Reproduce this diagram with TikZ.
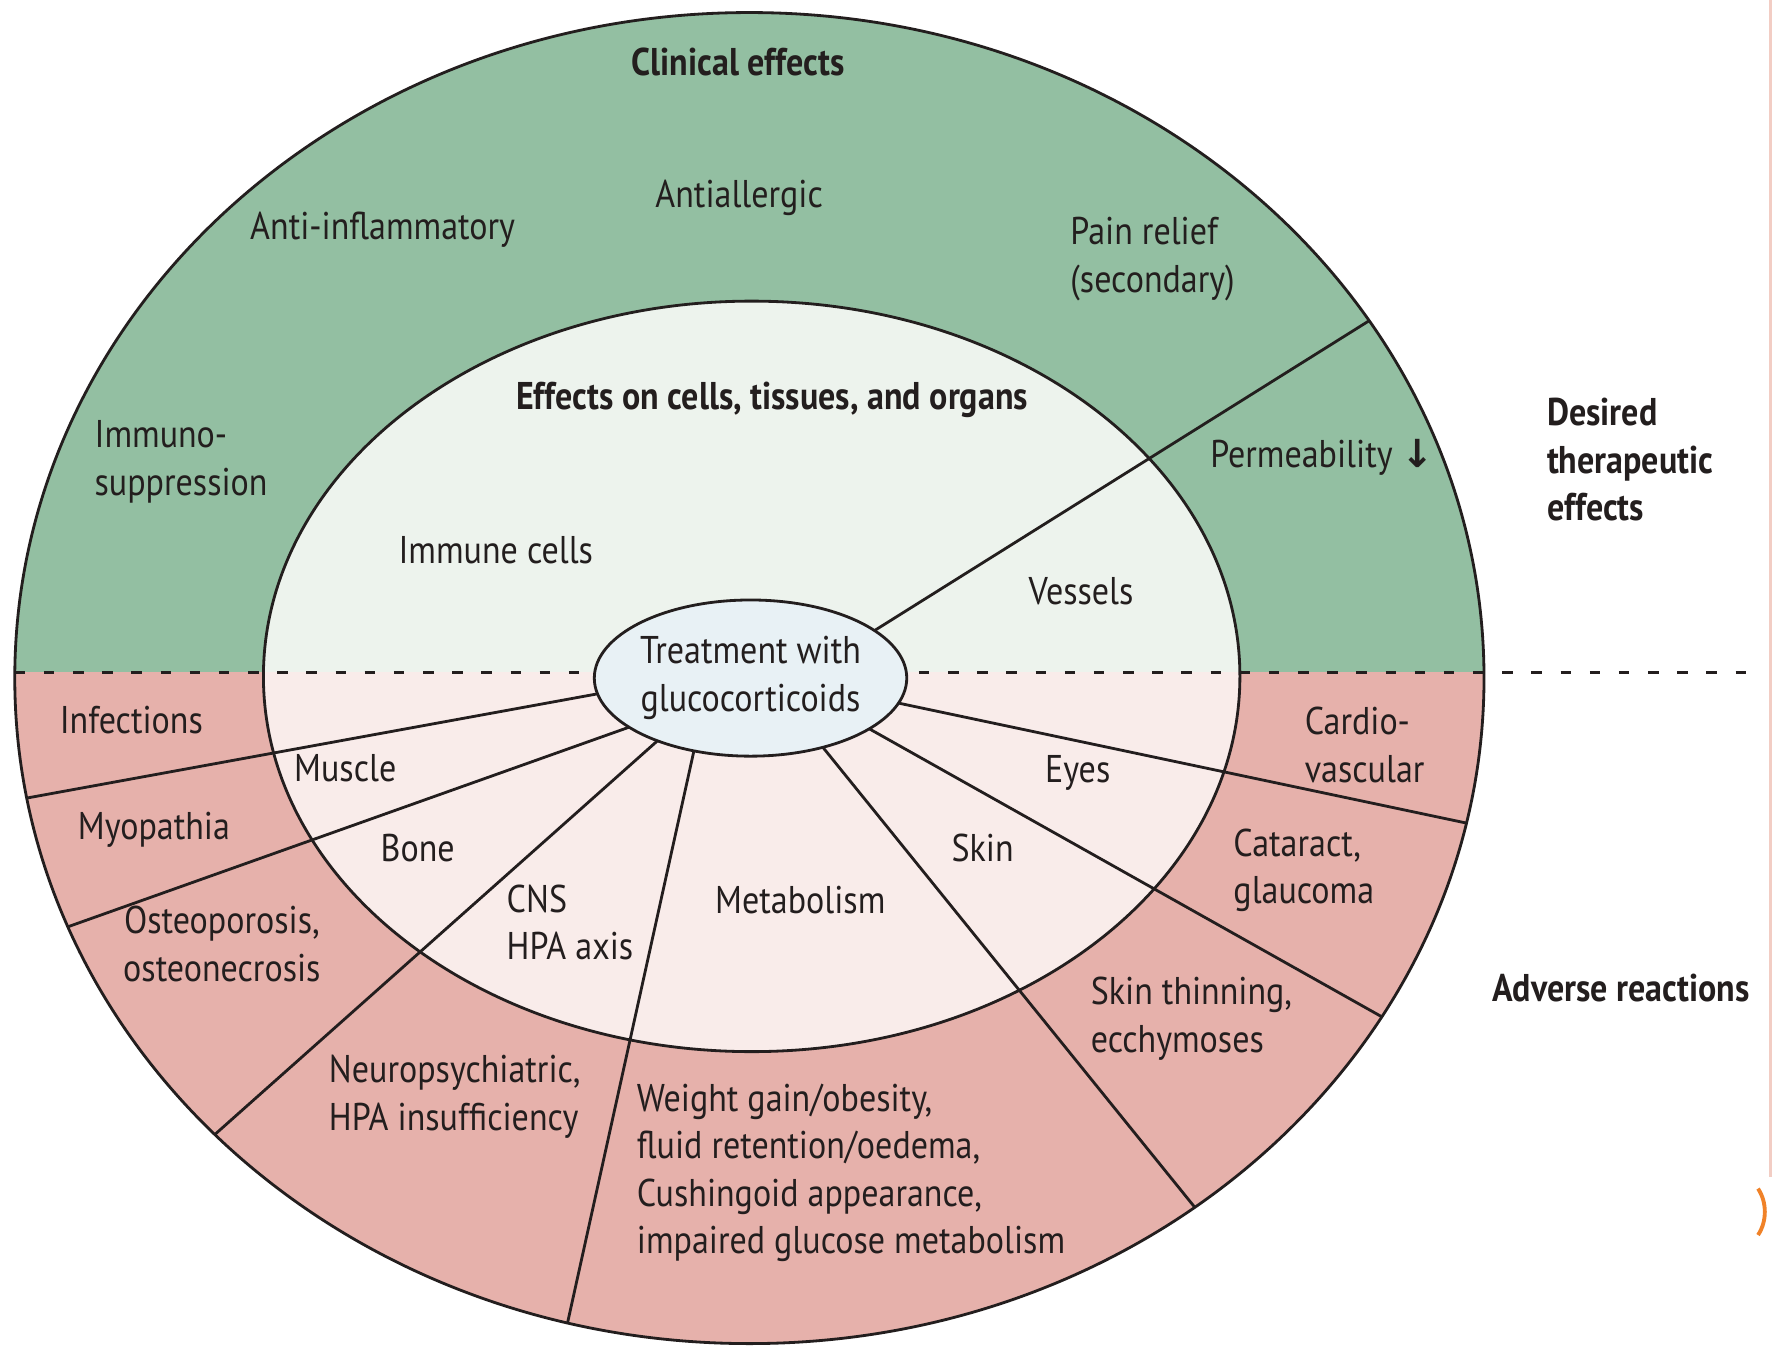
\documentclass[tikz,border=0pt]{standalone}
\usepackage{fontspec}
\setmainfont{PT Sans}[FakeStretch=0.88]
\newfontfamily\arrowfont{DejaVu Sans}
\usetikzlibrary{calc,shapes.geometric}
\definecolor{gOut}{RGB}{147,191,162}
\definecolor{rOut}{RGB}{230,177,171}
\definecolor{gIn}{RGB}{237,243,237}
\definecolor{rIn}{RGB}{249,236,234}
\definecolor{cIn}{RGB}{232,241,245}
\definecolor{ink}{RGB}{35,30,30}
\definecolor{edgeP}{RGB}{242,205,196}
\definecolor{arcO}{RGB}{240,130,40}
\begin{document}
\begin{tikzpicture}[x=0.01132cm,y=-0.01132cm,
  lbl/.style={font=\fontsize{11}{13.5}\selectfont, text=ink, inner sep=0pt, align=left},
  hdr/.style={lbl, font=\fontsize{11}{13.5}\selectfont\bfseries},
  spoke/.style={draw=ink, line width=0.8pt},
  rim/.style={draw=ink, line width=0.8pt},
  dashline/.style={draw=ink, line width=0.8pt, dash pattern=on 3pt off 5.3pt},
  hub/.style={ellipse, draw=ink, line width=0.8pt, fill=cIn, minimum width=2.672cm, minimum height=1.562cm, inner sep=0pt, align=center, text=ink, font=\fontsize{11}{13.5}\selectfont}]
\useasboundingbox[fill=white] (0,0) rectangle (1568,1188.2);
\coordinate (O) at (662,599);
\coordinate (I) at (664,597.5);
% fills
\begin{scope}
\clip (0,0) rectangle (1568,594);
\fill[gOut] (O) ellipse [x radius=7.347cm, y radius=6.656cm];
\fill[gIn] (I) ellipse [x radius=4.883cm, y radius=3.753cm];
\end{scope}
\begin{scope}
\clip (0,594) rectangle (1568,1188.2);
\fill[rOut] (O) ellipse [x radius=7.347cm, y radius=6.656cm];
\fill[rIn] (I) ellipse [x radius=4.883cm, y radius=3.753cm];
\end{scope}
% dashed divider
\coordinate (dl) at (13,594);
\coordinate (dr) at (1555,594);
\draw[dashline] (dl) -- (dr);
% spokes
\coordinate (s1) at (768.6,559.5); \coordinate (e1) at (1210,283);
\coordinate (s2) at (779,618);     \coordinate (e2) at (1295,727);
\coordinate (s3) at (762,640.5);   \coordinate (e3) at (1221,898.4);
\coordinate (s4) at (728.8,662.5); \coordinate (e4) at (1054.7,1065.6);
\coordinate (s5) at (612.5,665.5); \coordinate (e5) at (500.6,1172);
\coordinate (s6) at (581.6,653.7); \coordinate (e6) at (190,1002);
\coordinate (s7) at (561,640.5);   \coordinate (e7) at (60,818.7);
\coordinate (s8) at (543.3,610.1); \coordinate (e8) at (23.6,705);
\begin{scope}
\clip (O) ellipse [x radius=7.347cm, y radius=6.656cm];
\foreach \i in {1,...,8} \draw[spoke] ($(s\i)!-0.3cm!(e\i)$) -- ($(e\i)!-0.5cm!(s\i)$);
\end{scope}
% rims
\draw[rim] (O) ellipse [x radius=7.347cm, y radius=6.656cm];
\draw[rim] (I) ellipse [x radius=4.883cm, y radius=3.753cm];
% hub
\node[hub] (tx) at (663,599) {Treatment with\\glucocorticoids};
% labels upper
\node[hdr] (t-clin) at (652,55) {Clinical effects};
\node[lbl] (t-aller) at (653,175) {Antiallergic};
\node[lbl] (t-infl) at (338,203) {Anti-inflammatory};
\node[lbl, anchor=west] (t-pain) at (945,229) {Pain relief\\(secondary)};
\node[hdr] (t-eff) at (682,353) {Effects on cells, tissues, and organs};
\node[lbl, anchor=west] (t-immuno) at (83,408) {Immuno-\\suppression};
\node[lbl] (t-perm) at (1168,404) {Permeability {\arrowfont\bfseries ↓}};
\node[hdr, anchor=west] (t-des) at (1366,406) {Desired\\therapeutic\\effects};
\node[lbl] (t-immc) at (438,486) {Immune cells};
\node[lbl] (t-ves) at (955,522) {Vessels};
% labels lower
\node[lbl] (t-inf) at (116,636) {Infections};
\node[lbl] (t-mus) at (305,679) {Muscle};
\node[lbl] (t-myo) at (136,733) {Myopathia};
\node[lbl] (t-bone) at (369,749) {Bone};
\node[lbl, align=center] (t-ost) at (196,834) {Osteoporosis,\\osteonecrosis};
\node[lbl, anchor=west] (t-cns) at (447,815) {CNS\\HPA axis};
\node[lbl] (t-met) at (707,795) {Metabolism};
\node[lbl] (t-skin) at (868,749) {Skin};
\node[lbl] (t-eyes) at (952,683) {Eyes};
\node[lbl, anchor=west] (t-card) at (1152,658) {Cardio-\\vascular};
\node[lbl, anchor=west] (t-cat) at (1089,769) {Cataract,\\glaucoma};
\node[lbl, anchor=west] (t-skt) at (963,900) {Skin thinning,\\ecchymoses};
\node[lbl, anchor=west] (t-neu) at (290,969) {Neuropsychiatric,\\HPA insufficiency};
\node[lbl, anchor=west] (t-wt) at (562,1036) {Weight gain/obesity,\\fluid retention/oedema,\\Cushingoid appearance,\\impaired glucose metabolism};
\node[hdr] (t-adv) at (1432,873) {Adverse reactions};
% slide edge artefacts
\coordinate (pe1) at (1564,0);
\coordinate (pe2) at (1564,1040);
\draw[edgeP, line width=0.6pt] (pe1) -- (pe2);
\coordinate (oa1) at (1553,1050);
\coordinate (oa2) at (1553,1091);
\draw[arcO, line width=1.1pt] (oa1) .. controls (1561,1062) and (1561,1079) .. (oa2);
\end{tikzpicture}
\end{document}
